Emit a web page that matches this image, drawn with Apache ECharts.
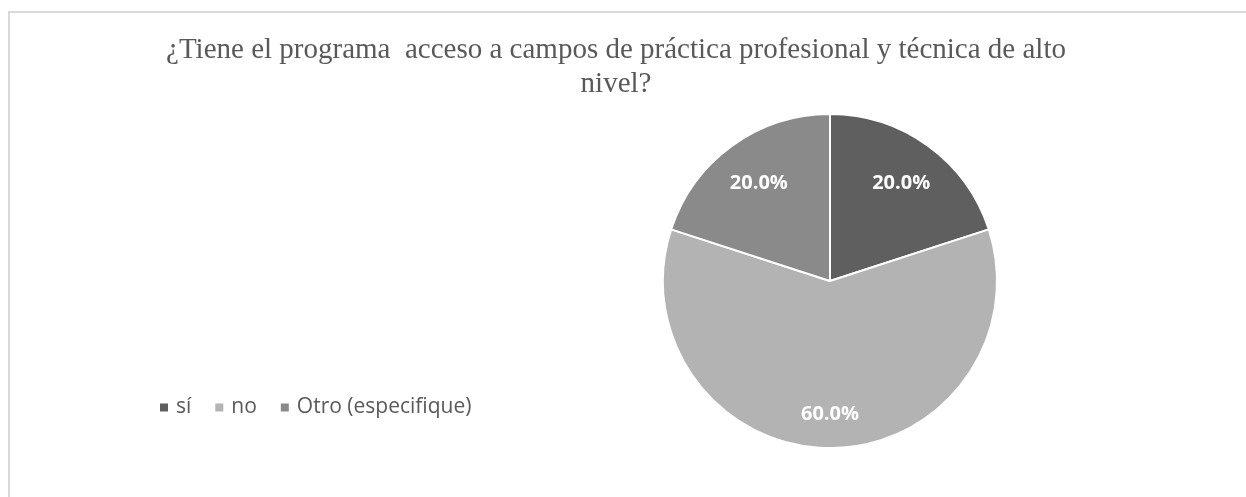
<!DOCTYPE html>
<html>
<head>
<meta charset="utf-8">
<script src="https://cdn.jsdelivr.net/npm/echarts@6/dist/echarts.min.js"></script>
<style>
  html, body { margin: 0; padding: 0; background: #fff; }
  #main { width: 1246px; height: 497px; }
  /* frame of the chart area: only top and left edges show in the picture */
  #frame {
    position: absolute; left: 8px; top: 11px; width: 1400px; height: 600px;
    border-top: 2px solid #d9d9d9; border-left: 2px solid #d9d9d9;
    pointer-events: none;
  }
</style>
</head>
<body>
<div id="main"></div>
<div id="frame"></div>
<script>
  var titleText = '¿Tiene el programa  acceso a campos de práctica profesional y técnica de alto\nnivel?';
  var categories = ['sí', 'no', 'Otro (especifique)'];
  var values = [20.0, 60.0, 20.0];
  var colors = ['#5f5f5f', '#b3b3b3', '#8a8a8a'];

  var pieCenter = [830, 281];
  var pieRadius = 167;
  // distance of each label centre from the pie centre, as a share of the radius
  var labelRadius = [0.725, 0.80, 0.725];

  var chart = echarts.init(document.getElementById('main'));

  var data = categories.map(function (c, i) {
    return { name: c, value: values[i], itemStyle: { color: colors[i] } };
  });

  chart.setOption({
    backgroundColor: '#fff',
    animation: false,
    title: {
      text: titleText,
      left: 611,
      top: 28,
      textAlign: 'center',
      textStyle: {
        fontFamily: 'Liberation Serif',
        fontWeight: 'normal',
        fontSize: 29,
        lineHeight: 34,
        color: '#595959'
      }
    },
    legend: {
      orient: 'horizontal',
      left: 153,
      top: 392,
      itemWidth: 14,
      itemHeight: 10,
      itemGap: 22,
      icon: 'path://M0,0h8v8h-8z',
      textStyle: {
        fontFamily: 'Open Sans',
        fontSize: 21,
        color: '#595959'
      },
      data: categories
    },
    series: [
      {
        type: 'pie',
        center: pieCenter,
        radius: pieRadius,
        startAngle: 90,
        clockwise: true,
        itemStyle: { borderColor: '#fff', borderWidth: 2 },
        label: {
          show: true,
          position: 'inside',
          formatter: function (p) { return p.value.toFixed(1) + '%'; },
          color: '#fff',
          fontFamily: 'Open Sans',
          fontWeight: 'bold',
          fontSize: 20
        },
        labelLine: { show: false },
        labelLayout: function (params) {
          var r = params.labelRect;
          var vx = r.x + r.width / 2 - pieCenter[0];
          var vy = r.y + r.height / 2 - pieCenter[1];
          var d = Math.sqrt(vx * vx + vy * vy) || 1;
          var target = labelRadius[params.dataIndex] * pieRadius;
          return {
            dx: vx / d * (target - d),
            dy: vy / d * (target - d)
          };
        },
        emphasis: { disabled: true },
        data: data
      }
    ]
  });
</script>
</body>
</html>
